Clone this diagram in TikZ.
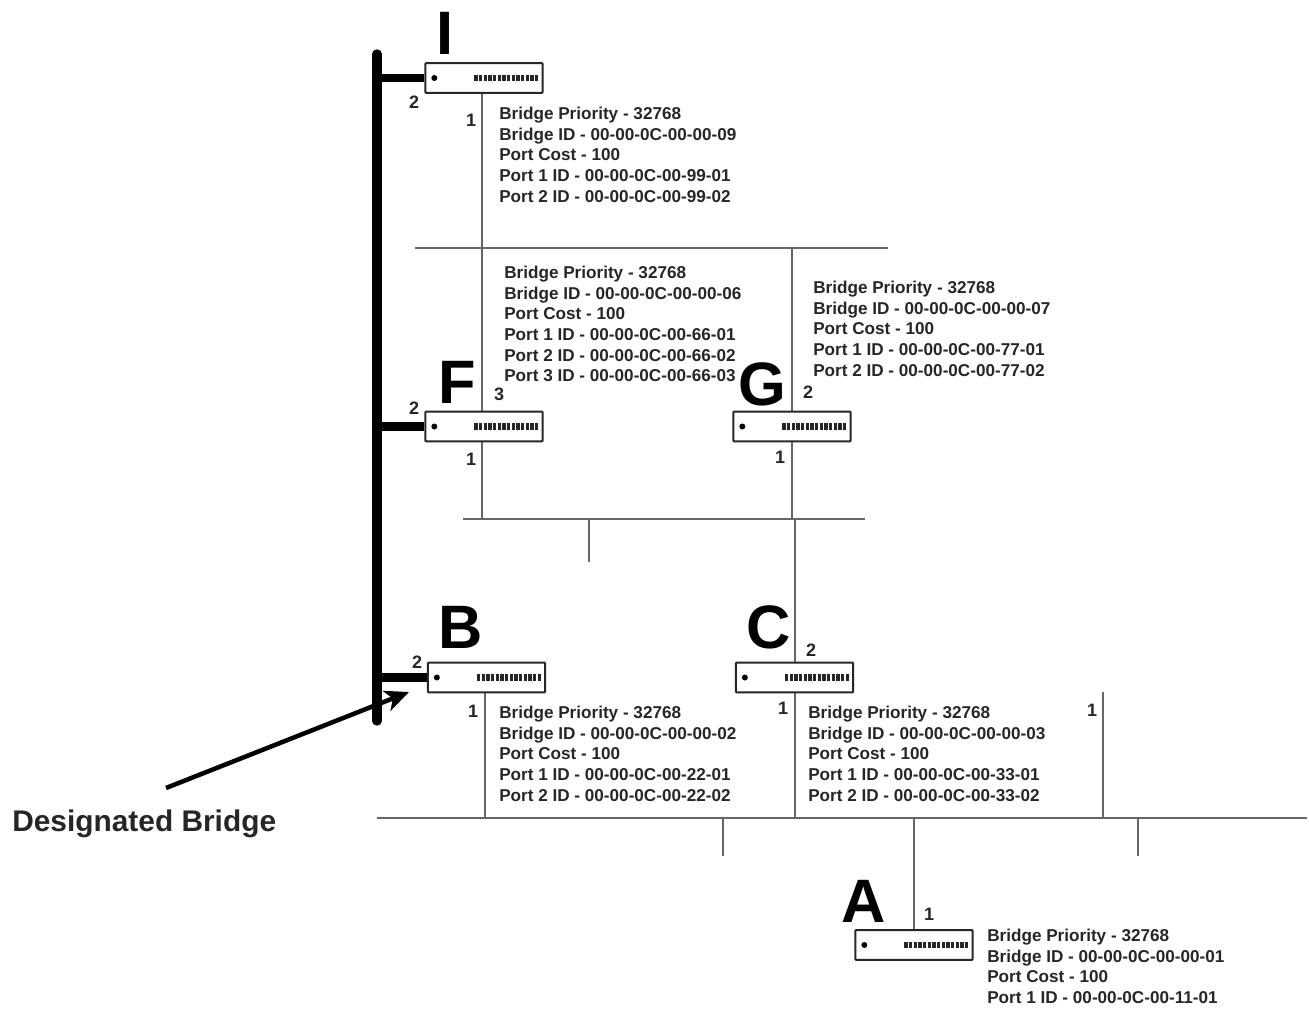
\documentclass[tikz,border=0pt]{standalone}
\usepackage{fontspec}
\setmainfont{Liberation Sans}
\usetikzlibrary{arrows.meta,calc}
\tikzset{
  px/.style={x=0.75pt,y=-0.75pt},
  bridgebox/.style={draw=black!85,line width=1.5pt,rounded corners=0.6pt,minimum width=88pt,minimum height=22.4pt,inner sep=0pt,fill=white},
  wire/.style={draw=black!60,line width=1.1pt},
  trunk/.style={draw=black,line width=7pt,line cap=round},
  spur/.style={draw=black,line width=6.5pt},
  info/.style={anchor=north west,align=left,inner sep=0pt,font=\fontsize{12.85}{15.45}\selectfont\bfseries,text=black!85},
  port/.style={inner sep=0pt,font=\fontsize{13.5}{15}\selectfont\bfseries,text=black!85},
  letter/.style={inner sep=0pt,font=\fontsize{46}{50}\selectfont\bfseries},
  lamp/.style={circle,fill=black,inner sep=0pt,minimum size=4.5pt},
  vents/.style={draw=black!85,line width=5pt,dash pattern=on 2.6pt off 0.9pt}
}
\newcommand{\bridgeunit}[3]{%
  \node[bridgebox] (#1) at (#2,#3) {};
  \node[lamp] (#1lamp) at ($(#1.west)+(7.5pt,0)$) {};
  \coordinate (#1va) at ($(#1.east)+(-52pt,0)$);
  \coordinate (#1vb) at ($(#1.east)+(-4pt,0)$);
  \draw[vents] (#1va) -- (#1vb);
}
\newcommand{\infoI}[4]{Bridge Priority - 32768\\Bridge ID - 00-00-0C-00-00-#1\\Port Cost - 100\\Port 1 ID - 00-00-0C-00-#2-01#3#4}
\begin{document}
\begin{tikzpicture}[px]
\useasboundingbox (0,0) rectangle (1309,1010);
% junctions and free ends
\coordinate (seg1a) at (415,248); \coordinate (seg1b) at (888,248);
\coordinate (seg1i) at (482,248); \coordinate (seg1g) at (792,248);
\coordinate (seg2a) at (463,519); \coordinate (seg2b) at (865,519);
\coordinate (seg2f) at (482,519); \coordinate (seg2g) at (792,519);
\coordinate (seg2c) at (795,519);
\coordinate (seg2s) at (589,519); \coordinate (seg2e) at (589,562);
\coordinate (seg3a) at (377,818); \coordinate (seg3b) at (1307,818);
\coordinate (seg3bb) at (485,818); \coordinate (seg3c) at (795,818);
\coordinate (seg3d) at (914,818);
\coordinate (st1a) at (723,818); \coordinate (st1b) at (723,856);
\coordinate (st2a) at (1138,818); \coordinate (st2b) at (1138,856);
\coordinate (st3a) at (1103,692); \coordinate (st3b) at (1103,818);
\coordinate (trA) at (377,54); \coordinate (trB) at (377,721);
\coordinate (trI) at (377,78); \coordinate (trF) at (377,426.5); \coordinate (trBB) at (377,677.5);
\coordinate (arrA) at (166,788); \coordinate (arrB) at (409,692);
% wires
\draw[wire] (seg1a) -- (seg1b);
\draw[wire] (seg2a) -- (seg2b);
\draw[wire] (seg3a) -- (seg3b);
\draw[wire] (seg2s) -- (seg2e);
\draw[wire] (st1a) -- (st1b);
\draw[wire] (st2a) -- (st2b);
\draw[wire] (st3a) -- (st3b);
\draw[wire] (482,93) -- (seg1i) -- (482,412);
\draw[wire] (seg1g) -- (792,412);
\draw[wire] (482,442) -- (seg2f);
\draw[wire] (792,442) -- (seg2g);
\draw[wire] (seg2c) -- (795,663);
\draw[wire] (795,692) -- (seg3c);
\draw[wire] (485,692) -- (seg3bb);
\draw[wire] (seg3d) -- (914,930);
% trunk
\draw[trunk] (trA) -- (trB);
% bridges
\bridgeunit{I}{484}{78}
\bridgeunit{F}{484}{426.5}
\bridgeunit{G}{792}{426.5}
\bridgeunit{B}{486.5}{677.5}
\bridgeunit{C}{794.5}{677.5}
\bridgeunit{A}{914}{945}
\draw[spur] (trI) -- (I.west);
\draw[spur] (trF) -- (F.west);
\draw[spur] (trBB) -- (B.west);
% arrow
\draw[draw=black,line width=3.4pt,-{Stealth[length=18pt,width=16pt,inset=5pt]}] (arrA) -- (arrB);
\node[inner sep=0pt,anchor=west,font=\fontsize{22.4}{25}\selectfont\bfseries,text=black!85] (dbl) at (12,824) {Designated Bridge};
% letters
\node[letter] (lI) at (445,33) {I};
\node[letter] (lF) at (457,382) {F};
\node[letter] (lG) at (762,384) {G};
\node[letter] (lB) at (461,627) {B};
\node[letter] (lC) at (769,627) {C};
\node[letter] (lA) at (864,901) {A};
% ports
\node[port] (pI2) at (414,102) {2};
\node[port] (pI1) at (471,120) {1};
\node[port] (pF2) at (414,408) {2};
\node[port] (pF3) at (499,394) {3};
\node[port] (pF1) at (471,459) {1};
\node[port] (pG2) at (808,392) {2};
\node[port] (pG1) at (780,457) {1};
\node[port] (pB2) at (417,662) {2};
\node[port] (pB1) at (473,711) {1};
\node[port] (pC2) at (811,650) {2};
\node[port] (pC1) at (783,708) {1};
\node[port] (pX1) at (1092,710) {1};
\node[port] (pA1) at (929,914) {1};
% information blocks
\node[info] (tI) at (499,107) {\infoI{09}{99}{\\Port 2 ID - 00-00-0C-00-99-02}{}};
\node[info] (tF) at (504,266) {\infoI{06}{66}{\\Port 2 ID - 00-00-0C-00-66-02}{\\Port 3 ID - 00-00-0C-00-66-03}};
\node[info] (tG) at (813,281) {\infoI{07}{77}{\\Port 2 ID - 00-00-0C-00-77-02}{}};
\node[info] (tB) at (499,706) {\infoI{02}{22}{\\Port 2 ID - 00-00-0C-00-22-02}{}};
\node[info] (tC) at (808,706) {\infoI{03}{33}{\\Port 2 ID - 00-00-0C-00-33-02}{}};
\node[info] (tA) at (987,929) {\infoI{01}{11}{}{}};
\end{tikzpicture}
\end{document}
